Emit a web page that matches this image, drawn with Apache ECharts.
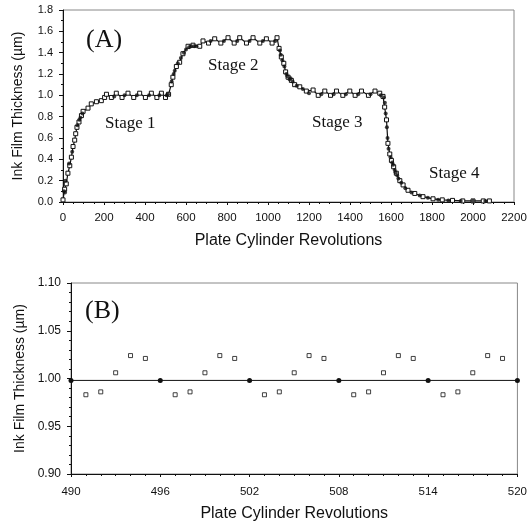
<!DOCTYPE html>
<html><head><meta charset="utf-8">
<script src="https://cdn.jsdelivr.net/npm/echarts@6/dist/echarts.min.js"></script>
<style>html,body{margin:0;padding:0;background:#fff}#c{width:530px;height:526px}</style>
</head><body><div id="c"></div>
<script>
// Panel A: measured (open squares) and model (filled circles)
const openRevsA = [0,8,16,24,33,41,49,57,62,68,78,90,98,122,138,163,187,
  203,212,236,260,288,317,345,374,402,431,458,480,500,515,
  528,536,553,569,585,610,634,667,683,
  710,740,770,805,835,862,895,927,960,992,1020,1044,
  1054,1065,1077,1086,1098,1114,1130,1155,1187,
  1220,1245,1277,1305,1334,1365,1399,1425,1456,1490,1522,1545,1561,
  1569,1578,1585,1594,1602,1613,1626,1643,1659,1683,1716,1756,1805,1850,1900,1950,2000,2050,2080];
const openThickA = [0.02,0.12,0.17,0.27,0.34,0.42,0.52,0.58,0.64,0.70,0.75,0.81,0.85,0.88,0.92,0.94,0.95,
  0.98,1.01,0.98,1.02,0.98,1.02,0.98,1.02,0.98,1.02,0.98,1.02,0.98,1.01,
  1.10,1.17,1.27,1.31,1.39,1.46,1.47,1.46,1.51,
  1.49,1.53,1.49,1.54,1.49,1.54,1.49,1.54,1.49,1.53,1.49,1.54,
  1.44,1.36,1.30,1.22,1.17,1.14,1.10,1.08,1.04,
  1.05,1.00,1.04,1.00,1.04,1.00,1.04,1.00,1.04,1.00,1.04,1.02,0.99,
  0.89,0.77,0.55,0.45,0.39,0.33,0.27,0.20,0.16,0.11,0.08,0.05,0.03,0.02,0.015,0.01,0.01,0.01,0.01];
const fillRevsA = [5,10,12,30,45,70,80,85,95,
  250,300,360,420,470,505,512,
  530,540,545,560,575,590,600,615,625,640,650,
  720,785,850,910,975,1035,
  1058,1062,1070,1080,1090,1095,1105,1110,1120,1140,1170,
  1200,1260,1320,1380,1440,1500,1550,1565,
  1570,1574,1580,1583,1588,1598,1606,1610,1618,1622,1630,1636,1650,1670,1700,1740,1780,1830,1880,1940,2000,2060];
const fillThickA = [0.10,0.09,0.20,0.36,0.47,0.72,0.77,0.79,0.83,
  0.99,1.00,1.00,1.00,1.00,1.00,1.01,
  1.13,1.20,1.23,1.30,1.35,1.40,1.43,1.45,1.46,1.46,1.46,
  1.51,1.51,1.51,1.51,1.51,1.51,
  1.42,1.38,1.33,1.27,1.20,1.18,1.15,1.16,1.13,1.09,1.06,
  1.02,1.01,1.01,1.01,1.01,1.01,1.00,0.98,
  0.93,0.83,0.70,0.60,0.50,0.42,0.37,0.35,0.30,0.28,0.25,0.22,0.18,0.13,0.09,0.06,0.04,0.02,0.015,0.01,0.01,0.01];

// Panel B
const openRevsB = [491,492,493,494,495,497,498,499,500,501,503,504,505,506,507,509,510,511,512,513,515,516,517,518,519];
const openThickB = [0.983,0.986,1.006,1.024,1.021,0.983,0.986,1.006,1.024,1.021,0.983,0.986,1.006,1.024,1.021,0.983,0.986,1.006,1.024,1.021,0.983,0.986,1.006,1.024,1.021];
const fillRevsB = [490,496,502,508,514,520];
const fillThickB = [0.998,0.998,0.998,0.998,0.998,0.998];

const zip = (a,b)=>a.map((v,i)=>[v,b[i]]);
const sans = 'Liberation Sans, Arial, sans-serif';
const serif = 'Liberation Serif, Times New Roman, serif';
const ink = '#111';

function xAx(idx, min, max, interval, minorSplit, labelMargin, nameGap){
  return {gridIndex: idx, type:'value', min, max, interval,
    name:'Plate Cylinder Revolutions', nameLocation:'middle', nameGap,
    nameTextStyle:{fontFamily:sans, fontSize:16, color:ink},
    axisLine:{onZero:false, lineStyle:{color:ink, width:1}},
    axisTick:{show:true, inside:false, length:3, lineStyle:{color:ink}},
    minorTick:{show:true, splitNumber:minorSplit, length:2, lineStyle:{color:ink}},
    splitLine:{show:false},
    axisLabel:{fontFamily:sans, fontSize:11.5, color:ink, margin:labelMargin, formatter:v=>String(v)}};
}
function yAx(idx, min, max, interval, fmt, nameGap, minorSplit, fs){
  return {gridIndex: idx, type:'value', min, max, interval,
    name:'Ink Film Thickness (\u00b5m)', nameLocation:'middle', nameGap,
    nameTextStyle:{fontFamily:sans, fontSize:14, color:ink},
    axisLine:{lineStyle:{color:ink, width:1}},
    axisTick:{show:true, length:4, lineStyle:{color:ink}},
    minorTick:{show:true, splitNumber:minorSplit, length:2, lineStyle:{color:ink}},
    splitLine:{show:false},
    axisLabel:{fontFamily:sans, fontSize:fs, color:ink, margin:10, formatter:v=>v.toFixed(fmt)}};
}

const chart = echarts.init(document.getElementById('c'), null, {renderer:'canvas'});
chart.setOption({
  animation:false,
  backgroundColor:'#fff',
  grid:[
    {left:63, top:10, width:451, height:192, show:true, borderColor:'#888', borderWidth:1, backgroundColor:'transparent'},
    {left:71, top:283, width:447, height:191, show:true, borderColor:'#888', borderWidth:1, backgroundColor:'transparent'}
  ],
  xAxis:[ xAx(0,0,2200,200,4,10,31), xAx(1,490,520,6,6,12,32) ],
  yAxis:[ yAx(0,0,1.8,0.2,1,38,2,11), yAx(1,0.9,1.1,0.05,2,44,5,12) ],
  series:[
    {type:'line', xAxisIndex:0, yAxisIndex:0, data:zip(openRevsA,openThickA),
     symbol:'rect', symbolSize:4, showAllSymbol:true,
     lineStyle:{color:ink, width:1.2},
     itemStyle:{color:'#fff', borderColor:ink, borderWidth:1}, z:2},
    {type:'scatter', xAxisIndex:0, yAxisIndex:0, data:zip(fillRevsA,fillThickA),
     symbol:'circle', symbolSize:4, itemStyle:{color:ink}, z:3},
    {type:'line', xAxisIndex:1, yAxisIndex:1, data:zip(fillRevsB,fillThickB),
     symbol:'circle', symbolSize:5, lineStyle:{color:ink, width:1},
     itemStyle:{color:ink}, z:2},
    {type:'scatter', xAxisIndex:1, yAxisIndex:1, data:zip(openRevsB,openThickB),
     symbol:'rect', symbolSize:4,
     itemStyle:{color:'#fff', borderColor:ink, borderWidth:1}, z:3}
  ],
  graphic:[
    {type:'text', left:86, top:27, style:{text:'(A)', font:'26px '+serif, fill:ink}},
    {type:'text', left:105, top:115, style:{text:'Stage 1', font:'17px '+serif, fill:ink}},
    {type:'text', left:208, top:57, style:{text:'Stage 2', font:'17px '+serif, fill:ink}},
    {type:'text', left:312, top:114, style:{text:'Stage 3', font:'17px '+serif, fill:ink}},
    {type:'text', left:429, top:165, style:{text:'Stage 4', font:'17px '+serif, fill:ink}},
    {type:'text', left:85, top:298, style:{text:'(B)', font:'26px '+serif, fill:ink}}
  ]
});
</script></body></html>
